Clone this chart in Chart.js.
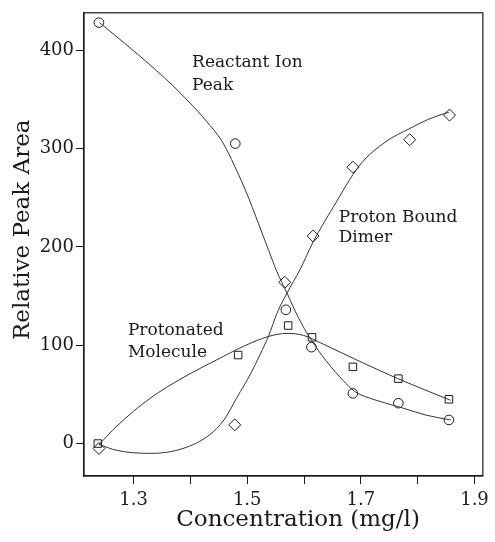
<!DOCTYPE html>
<html>
<head>
<meta charset="utf-8">
<script src="https://cdn.jsdelivr.net/npm/chart.js@4.4.1/dist/chart.umd.min.js"></script>
<style>
html,body{margin:0;padding:0;background:#fff}
#c{display:block}
</style>
</head>
<body>
<canvas id="c" width="495" height="542"></canvas>
<script>
// measured points
var ionX=[1.239,1.479,1.568,1.613,1.686,1.766,1.855];
var ionY=[428,305,136,98,51,41,24];
var molX=[1.237,1.484,1.572,1.614,1.686,1.766,1.855];
var molY=[0,90,120,108,78,66,45];
var dimX=[1.239,1.478,1.566,1.616,1.686,1.786,1.856];
var dimY=[-5,19,164,211,281,309,334];

// fitted curves
var ionCurveX=[1.240,1.311,1.369,1.398,1.428,1.456,1.478,1.503,1.515,1.538,1.552,1.570,1.590,1.613,1.639,1.669,1.689,1.727,1.769,1.814,1.858];
var ionCurveY=[428,394,364,347,328,307,282,249,231,196,175,153,128,105,84,64,53,44,37,29,24];
var molCurveX=[1.239,1.271,1.329,1.387,1.446,1.494,1.538,1.570,1.599,1.634,1.689,1.765,1.858];
var molCurveY=[-1,18,46,67,85,99,109,112,110,101,86,66,44];
var dimCurveX=[1.239,1.271,1.329,1.387,1.434,1.459,1.482,1.506,1.523,1.538,1.552,1.570,1.593,1.616,1.651,1.698,1.744,1.785,1.820,1.855];
var dimCurveY=[-1,-7,-10,-5,9,24,47,71,91,110,132,153,177,205,240,283,307,320,330,337];

var xTicks=[1.3,1.4,1.5,1.6,1.7,1.8,1.9];
var xTickLabels=['1.3','','1.5','','1.7','','1.9'];
var yTicks=[0,100,200,300,400];

var ionText=['Reactant Ion','Peak'];
var dimText=['Proton Bound','Dimer'];
var molText=['Protonated','Molecule'];

var SERIF='"DejaVu Serif", serif';
var INK='#1a1a1a';

function pts(xs,ys){return xs.map(function(x,i){return {x:x,y:ys[i]};});}

function curve(xs,ys){
    return {data:pts(xs,ys),showLine:true,borderColor:'#333',borderWidth:1,pointRadius:0,
        cubicInterpolationMode:'monotone',fill:false};
}
function marks(xs,ys,style,r){
    return {data:pts(xs,ys),showLine:false,pointStyle:style,pointRadius:r,
        pointBorderColor:INK,pointBackgroundColor:'rgba(0,0,0,0)',pointBorderWidth:1};
}

// frame + text labels
var extras={
    id:'extras',
    afterDraw:function(chart){
        var ctx=chart.ctx, a=chart.chartArea, xs=chart.scales.x, ys=chart.scales.y;
        ctx.save();
        ctx.strokeStyle=INK; ctx.lineWidth=1.2;
        ctx.strokeRect(a.left,a.top,a.right-a.left,a.bottom-a.top);
        ctx.fillStyle=INK; ctx.font='17px '+SERIF; ctx.textBaseline='middle'; ctx.textAlign='left';
        function put(lines,x,y1,y2){
            ctx.fillText(lines[0],xs.getPixelForValue(x),ys.getPixelForValue(y1));
            ctx.fillText(lines[1],xs.getPixelForValue(x),ys.getPixelForValue(y2));
        }
        put(ionText,1.403,387,364);
        put(dimText,1.661,230,209);
        put(molText,1.290,115,93);
        ctx.restore();
    }
};

new Chart(document.getElementById('c').getContext('2d'),{
    type:'scatter',
    data:{datasets:[
        curve(ionCurveX,ionCurveY),
        curve(molCurveX,molCurveY),
        curve(dimCurveX,dimCurveY),
        marks(ionX,ionY,'circle',4.8),
        marks(molX,molY,'rect',5.3),
        marks(dimX,dimY,'rectRot',6)
    ]},
    options:{
        responsive:false,animation:false,
        layout:{padding:{top:10,right:9,left:0,bottom:0}},
        plugins:{legend:{display:false},tooltip:{enabled:false}},
        scales:{
            x:{type:'linear',min:1.2127,max:1.9147,
                afterBuildTicks:function(s){s.ticks=xTicks.map(function(v){return {value:v};});},
                afterFit:function(s){s.height=66;},
                grid:{drawOnChartArea:false,drawTicks:true,tickLength:8,tickColor:INK},
                border:{display:true,color:INK,width:1.2},
                ticks:{autoSkip:false,maxRotation:0,color:INK,padding:6,font:{family:SERIF,size:18},
                    callback:function(v,i){return xTickLabels[i];}},
                // leading spaces nudge the title right like the original
                title:{display:true,text:'    Concentration (mg/l)',color:INK,font:{family:SERIF,size:23},padding:{top:0,bottom:8}}
            },
            y:{type:'linear',min:-33,max:438,
                afterBuildTicks:function(s){s.ticks=yTicks.map(function(v){return {value:v};});},
                afterFit:function(s){s.width=84;},
                grid:{drawOnChartArea:false,drawTicks:true,tickLength:8,tickColor:INK},
                border:{display:true,color:INK,width:1.2},
                ticks:{color:INK,padding:2,font:{family:SERIF,size:18}},
                title:{display:true,text:'    Relative Peak Area',color:INK,font:{family:SERIF,size:23},padding:{top:9,bottom:0}}
            }
        }
    },
    plugins:[extras]
});
</script>
</body>
</html>
